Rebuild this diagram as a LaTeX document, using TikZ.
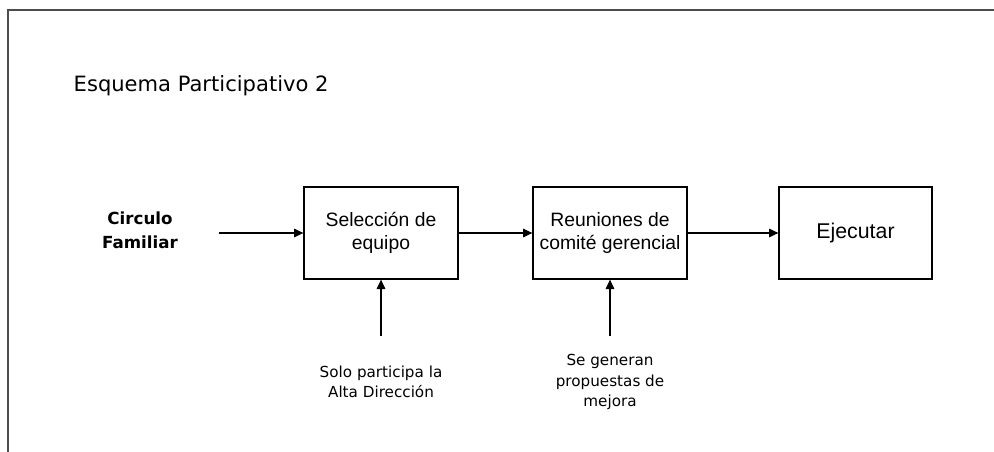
\documentclass[tikz,border=0pt]{standalone}
\usepackage{fontspec}
\setmainfont{DejaVu Sans}
\newfontfamily\arialf{Liberation Sans}
\usetikzlibrary{arrows.meta}
\begin{document}
\begin{tikzpicture}[x=0.75pt,y=-0.75pt,
  procbox/.style={draw=black,line width=1pt,inner sep=0pt,minimum width=115.5pt,minimum height=69pt,align=center,font=\arialf\fontsize{14.5}{17.3}\selectfont},
  flow/.style={draw=black,line width=0.8pt,-{Triangle[length=7pt,width=6.5pt]}},
  note/.style={align=center,font=\fontsize{11.4}{15.4}\selectfont},
  frameline/.style={draw=black!70,line width=1.3pt}]
\useasboundingbox (0,0) rectangle (994,452);
\coordinate (fr1) at (994,10);
\coordinate (fr2) at (8,10);
\coordinate (fr3) at (8,452);
\draw[frameline] (fr1) -- (fr2) -- (fr3);
\node[anchor=base west,font=\fontsize{15.8}{19}\selectfont] (title) at (69,92) {Esquema Participativo 2};
\node[align=center,font=\bfseries\fontsize{12.5}{18}\selectfont] (cf) at (140,230) {Circulo\\Familiar};
\coordinate (cfout) at (219,233);
\node[procbox] (b1) at (381,233) {Selección de\\equipo};
\node[procbox] (b2) at (610,233) {Reuniones de\\comité gerencial};
\node[procbox,minimum width=114.75pt,font=\arialf\fontsize{16}{19}\selectfont] (b3) at (855.5,233) {Ejecutar};
\draw[flow] (cfout) -- (b1.west);
\draw[flow] (b1.east) -- (b2.west);
\draw[flow] (b2.east) -- (b3.west);
\coordinate (u1) at (381,336);
\coordinate (u2) at (610,336);
\draw[flow] (u1) -- (b1.south);
\draw[flow] (u2) -- (b2.south);
\node[note] (n1) at (381,382) {Solo participa la\\Alta Dirección};
\node[note] (n2) at (610,382) {Se generan\\propuestas de\\mejora};
\end{tikzpicture}
\end{document}
